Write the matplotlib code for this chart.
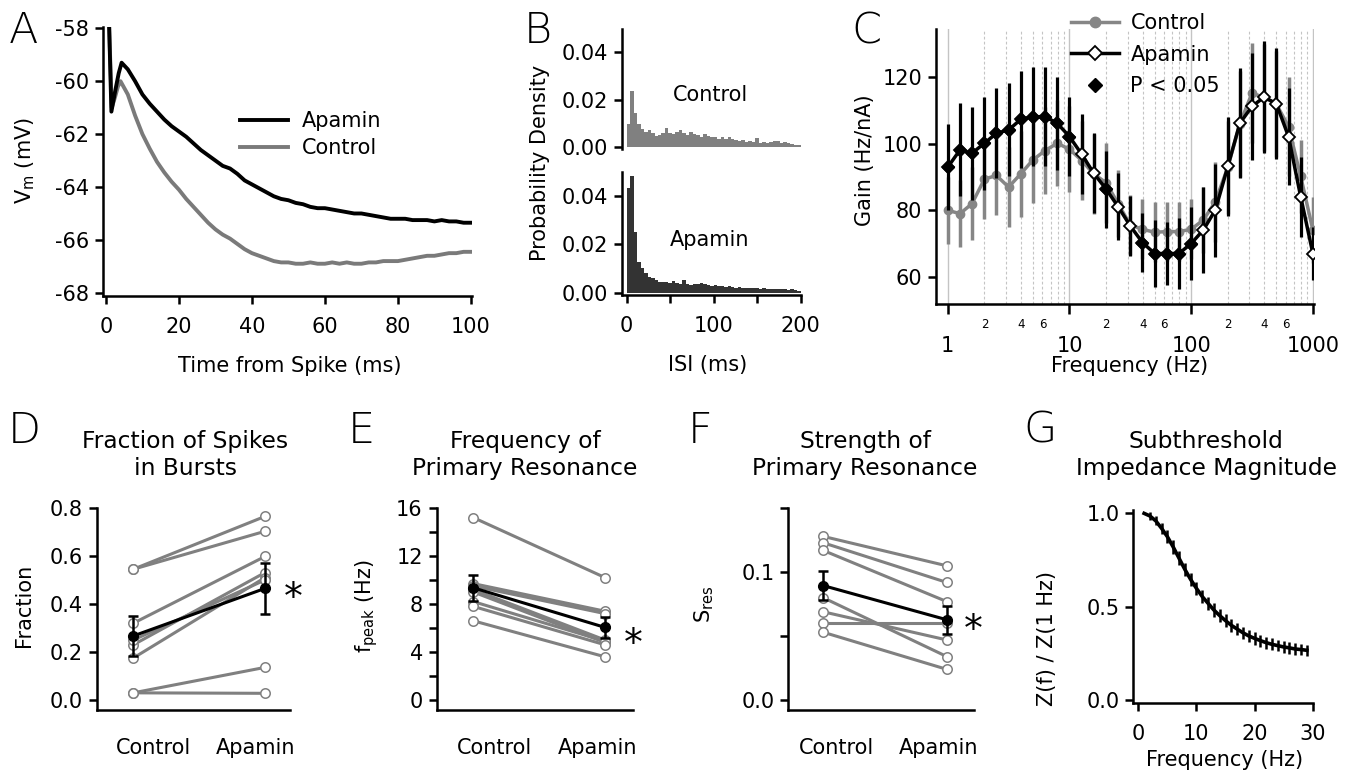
import math
import matplotlib
matplotlib.use("Agg")
import matplotlib.pyplot as plt
from matplotlib.lines import Line2D
from matplotlib.ticker import FixedLocator, FuncFormatter, FormatStrFormatter

# ------------------------------------------------------------------ data
# Panel A : mean membrane potential after a spike
a_time_apamin = [0.9, 1.5, 2.5, 3.5, 4.3,
                 6, 8, 10, 12, 14, 16, 18, 20, 22, 24, 26, 28, 30, 32, 34, 36, 38, 40,
                 42, 44, 46, 48, 50, 52, 54, 56, 58, 60, 62, 64, 66, 68, 70, 72, 74, 76,
                 78, 80, 82, 84, 86, 88, 90, 92, 94, 96, 98, 100]
a_vm_apamin = [-58.0, -61.15, -60.4, -59.7, -59.3,
               -59.55, -60.0, -60.5, -60.85, -61.15, -61.45, -61.7, -61.9, -62.1, -62.35,
               -62.6, -62.8, -63.0, -63.2, -63.3, -63.5, -63.75, -63.9, -64.05, -64.2,
               -64.35, -64.45, -64.5, -64.6, -64.65, -64.75, -64.8, -64.8, -64.85, -64.9,
               -64.95, -65.0, -65.0, -65.05, -65.1, -65.15, -65.2, -65.2, -65.2, -65.25,
               -65.25, -65.25, -65.3, -65.25, -65.3, -65.3, -65.35, -65.35]
a_time_control = [0.9, 1.6, 2.5, 3.3, 4.0,
                  6, 8, 10, 12, 14, 16, 18, 20, 22, 24, 26, 28, 30, 32, 34, 36, 38, 40,
                  42, 44, 46, 48, 50, 52, 54, 56, 58, 60, 62, 64, 66, 68, 70, 72, 74, 76,
                  78, 80, 82, 84, 86, 88, 90, 92, 94, 96, 98, 100]
a_vm_control = [-58.0, -61.0, -60.6, -60.2, -60.0,
                -60.5, -61.3, -62.0, -62.55, -63.05, -63.45, -63.8, -64.1, -64.45, -64.75,
                -65.05, -65.35, -65.6, -65.8, -65.95, -66.15, -66.35, -66.5, -66.6, -66.7,
                -66.8, -66.85, -66.85, -66.9, -66.9, -66.85, -66.9, -66.9, -66.85, -66.9,
                -66.85, -66.9, -66.9, -66.85, -66.85, -66.8, -66.8, -66.8, -66.75, -66.7,
                -66.65, -66.6, -66.6, -66.55, -66.5, -66.5, -66.45, -66.45]

# Panel B : ISI histograms (4 ms bins, 0-200 ms)
b_bin_edges = list(range(0, 204, 4))
b_hist_control = [0.0095, 0.0237, 0.0142, 0.0099, 0.0075, 0.0065, 0.0072, 0.0058, 0.0046, 0.0049,
                  0.0058, 0.0079, 0.0060, 0.0055, 0.0065, 0.0072, 0.0060, 0.0051, 0.0065, 0.0055,
                  0.0051, 0.0044, 0.0054, 0.0046, 0.0041, 0.0044, 0.0035, 0.0041, 0.0032, 0.0044,
                  0.0032, 0.0030, 0.0027, 0.0030, 0.0023, 0.0025, 0.0023, 0.0037, 0.0018, 0.0021,
                  0.0018, 0.0023, 0.0027, 0.0024, 0.0018, 0.0021, 0.0015, 0.0013, 0.0008, 0.0007]
b_hist_apamin = [0.0430, 0.0480, 0.0250, 0.0125, 0.0100, 0.0080, 0.0066, 0.0059, 0.0052, 0.0045,
                 0.0045, 0.0043, 0.0038, 0.0048, 0.0038, 0.0034, 0.0052, 0.0034, 0.0032, 0.0034,
                 0.0037, 0.0040, 0.0036, 0.0032, 0.0029, 0.0032, 0.0027, 0.0029, 0.0025, 0.0027,
                 0.0023, 0.0021, 0.0023, 0.0021, 0.0018, 0.0021, 0.0018, 0.0018, 0.0017, 0.0018,
                 0.0015, 0.0017, 0.0014, 0.0015, 0.0014, 0.0015, 0.0012, 0.0014, 0.0011, 0.0008]

# Panel C : gain vs frequency
c_freq = [1, 1.26, 1.58, 2, 2.51, 3.16, 3.98, 5.01, 6.31, 7.94, 10, 12.6, 15.8, 20, 25.1, 31.6,
          39.8, 50.1, 63.1, 79.4, 100, 126, 158, 200, 251, 316, 398, 501, 631, 794, 1000]
c_gain_control = [80, 79, 82, 89.4, 90.5, 87, 91, 95.2, 98, 100.2, 98.4, 95, 91, 88.3, 82, 75.6,
                  74.3, 73.4, 73.6, 73.6, 74.3, 77.1, 82.6, 93, 106, 115.3, 114, 112, 105.2, 90.2, 74.1]
c_err_control = [10, 10, 11, 12, 12, 12, 13, 13, 13, 13, 13, 12, 12, 12, 10, 9,
                 9, 9, 9, 9, 9, 10, 12, 14, 16, 15, 16, 16, 15, 11, 10]
c_gain_apamin = [93, 98.2, 97.2, 100.2, 103.2, 104.2, 107.4, 108.2, 108.2, 106.2, 102.2, 96.9, 91.2,
                 86.4, 81.1, 75.3, 70.3, 67, 67, 67, 70, 74.1, 80.1, 93.2, 106.2, 111.3, 114.1,
                 112.1, 102.2, 84.1, 67]
c_err_apamin = [13, 14, 14, 14, 13.6, 14, 14.6, 15, 15, 14, 12, 12, 12, 11.6, 10, 9,
                9, 10, 9.6, 10.6, 11, 13, 14, 15, 16.6, 16, 16.8, 16.7, 14.6, 12, 8]
c_significant = [1, 1, 1, 1, 1, 1, 1, 1, 1, 1, 1, 0, 0, 1, 0, 0,
                 1, 1, 1, 1, 1, 0, 0, 0, 0, 0, 0, 0, 0, 0, 0]

# Panels D-F : paired cell values (Control -> Apamin)
conditions = ['Control', 'Apamin']
d_control = [0.545, 0.545, 0.32, 0.23, 0.175, 0.25, 0.03, 0.03]
d_apamin = [0.765, 0.703, 0.598, 0.531, 0.51, 0.50, 0.136, 0.028]
d_mean = [0.267, 0.465]
d_sem = [0.083, 0.105]

e_control = [15.2, 9.7, 9.5, 9.2, 9.0, 8.2, 7.8, 6.6]
e_apamin = [10.2, 7.4, 7.2, 5.0, 4.8, 4.9, 4.6, 3.6]
e_mean = [9.35, 6.05]
e_sem = [1.1, 0.87]

f_control = [0.128, 0.123, 0.117, 0.080, 0.069, 0.060, 0.053]
f_apamin = [0.105, 0.092, 0.077, 0.034, 0.047, 0.060, 0.024]
f_mean = [0.0895, 0.0628]
f_sem = [0.0115, 0.011]

# Panel G : normalised subthreshold impedance
g_freq = [1, 2, 3, 4, 5, 6, 7, 8, 9, 10, 11, 12, 13, 14, 15, 16, 17, 18, 19, 20,
          21, 22, 23, 24, 25, 26, 27, 28, 29]
g_ratio = [1.0, 0.986, 0.96, 0.92, 0.875, 0.82, 0.76, 0.70, 0.646, 0.598, 0.554, 0.518, 0.482,
           0.452, 0.425, 0.40, 0.38, 0.36, 0.343, 0.33, 0.318, 0.307, 0.298, 0.291, 0.284,
           0.279, 0.273, 0.27, 0.266]
g_err = [0.0, 0.02, 0.025, 0.03, 0.035, 0.036, 0.036, 0.036, 0.036, 0.036, 0.035, 0.035, 0.035,
         0.035, 0.034, 0.034, 0.034, 0.033, 0.033, 0.033, 0.032, 0.032, 0.032, 0.031, 0.031,
         0.031, 0.030, 0.030, 0.030]

# ------------------------------------------------------------------ figure
plt.rcParams['font.family'] = ['DejaVu Sans']
plt.rcParams['mathtext.fontset'] = 'dejavusans'
plt.rcParams['axes.unicode_minus'] = False

W, H = 1355, 779
fig = plt.figure(figsize=(W / 100, H / 100), dpi=100)
FS = 15
GRAY = '#808080'
LW_SP = 1.8


def px_axes(l, t, r, b):
    return fig.add_axes([l / W, 1 - b / H, (r - l) / W, (b - t) / H])


def ftext(x, y, s, **kw):
    return fig.text(x / W, 1 - y / H, s, **kw)


def base_style(ax):
    ax.spines['top'].set_visible(False)
    ax.spines['right'].set_visible(False)
    for s in ('left', 'bottom'):
        ax.spines[s].set_linewidth(LW_SP)
    ax.tick_params(axis='both', which='both', width=LW_SP, length=6, labelsize=FS,
                   direction='out')
    ax.tick_params(axis='y', pad=4)
    ax.tick_params(axis='x', pad=9)
    ax.patch.set_alpha(0)


# ---------------- Panel A
axA = px_axes(103, 27, 472, 296)
base_style(axA)
axA.plot(a_time_control, a_vm_control, color='#7a7a7a', lw=2.8)
axA.plot(a_time_apamin, a_vm_apamin, color='black', lw=2.8)
axA.set_xlim(-0.8, 100.3)
axA.set_ylim(-68.12, -57.95)
axA.set_xticks([0, 20, 40, 60, 80, 100])
axA.set_yticks([-68, -66, -64, -62, -60, -58])
axA.legend([Line2D([], [], color='black', lw=2.8), Line2D([], [], color='#7a7a7a', lw=2.8)],
           ['Apamin', 'Control'], loc='upper left', bbox_to_anchor=(240 / W, 1 - 111 / H),
           bbox_transform=fig.transFigure, frameon=False, fontsize=FS, handlelength=2.3,
           handletextpad=0.65, labelspacing=0.33, borderpad=0, borderaxespad=0)
ftext(290, 366, 'Time from Spike (ms)', ha='center', va='center', fontsize=FS)
ftext(25, 160, 'V$_\\mathrm{m}$ (mV)', ha='center', va='center', fontsize=FS, rotation=90)

# ---------------- Panel B
axB1 = px_axes(622, 29, 801, 149)
axB2 = px_axes(622, 172, 801, 295)
for ax, hist, col, lab, ylim, ty in ((axB1, b_hist_control, '#808080', 'Control',
                                      (-0.00084, 0.0498), 95),
                                     (axB2, b_hist_apamin, '#333333', 'Apamin',
                                      (-0.00095, 0.0497), 240)):
    base_style(ax)
    ax.stairs(hist, b_bin_edges, fill=True, color=col, lw=0)
    ax.set_xlim(-5.4, 200.5)
    ax.set_ylim(*ylim)
    ax.set_yticks([0, 0.02, 0.04])
    ax.yaxis.set_major_formatter(FormatStrFormatter('%.2f'))
    ftext(710, ty, lab, ha='center', va='center', fontsize=FS)
axB1.spines['bottom'].set_visible(False)
axB1.tick_params(axis='x', which='both', bottom=False, labelbottom=False)
axB2.set_xticks([0, 100, 200])
axB2.set_xticks([50, 150], minor=True)
axB2.tick_params(axis='x', which='minor', length=6, width=LW_SP)
ftext(540, 163, 'Probability Density', ha='center', va='center', fontsize=FS, rotation=90)
ftext(708, 365, 'ISI (ms)', ha='center', va='center', fontsize=FS)

# ---------------- Panel C
axC = px_axes(936, 29, 1313.5, 304)
base_style(axC)
axC.set_xscale('log')
axC.set_xlim(0.80, 1012)
axC.set_ylim(51.8, 134.6)
axC.set_yticks([60, 80, 100, 120])
axC.xaxis.set_major_locator(FixedLocator([1, 10, 100, 1000]))
axC.xaxis.set_major_formatter(FuncFormatter(lambda v, p: f'{v:g}'))
minor_pos = [m * 10 ** k for k in range(3) for m in range(2, 10)]
axC.xaxis.set_minor_locator(FixedLocator(minor_pos))


def _minor_fmt(v, p):
    mant = int(round(v / 10 ** math.floor(math.log10(v) + 1e-9)))
    return str(mant) if mant in (2, 4, 6) else ''


axC.xaxis.set_minor_formatter(FuncFormatter(_minor_fmt))
axC.tick_params(axis='x', which='major', length=7, pad=16)
axC.tick_params(axis='x', which='minor', length=0, pad=10, labelsize=8.5)
axC.grid(True, which='major', axis='x', color='#c4c4c4', lw=1.0)
axC.grid(True, which='minor', axis='x', color='#c4c4c4', lw=0.8, ls=(0, (2.5, 2)))
axC.set_axisbelow(True)
axC.errorbar(c_freq, c_gain_control, yerr=c_err_control, fmt='none', ecolor='#868686',
             elinewidth=2.5, capsize=0, zorder=2)
axC.plot(c_freq, c_gain_control, color='#868686', lw=2.5, marker='o', ms=6, zorder=2.5)
axC.errorbar(c_freq, c_gain_apamin, yerr=c_err_apamin, fmt='none', ecolor='black',
             elinewidth=2.3, capsize=0, zorder=3)
axC.plot(c_freq, c_gain_apamin, color='black', lw=2.5, marker='D', ms=6.3, mfc='white',
         mec='black', mew=1.3, zorder=3.5)
sig_x = [f for f, s in zip(c_freq, c_significant) if s]
sig_y = [g for g, s in zip(c_gain_apamin, c_significant) if s]
axC.plot(sig_x, sig_y, ls='none', marker='D', ms=6.3, color='black', zorder=4)
fig.legend([Line2D([], [], color='#868686', lw=2.5, marker='o', ms=7.5),
            Line2D([], [], color='black', lw=2.5, marker='D', ms=7, mfc='white', mec='black',
                   mew=1.3),
            Line2D([], [], ls='none', marker='D', ms=7, color='black')],
           ['Control', 'Apamin', 'P < 0.05'], loc='upper left',
           bbox_to_anchor=(1071 / W, 1 - 13 / H), frameon=False, fontsize=FS,
           handlelength=2.3, handletextpad=0.55, labelspacing=0.56, borderpad=0,
           borderaxespad=0)
ftext(865, 160, 'Gain (Hz/nA)', ha='center', va='center', fontsize=FS, rotation=90)
ftext(1130, 366, 'Frequency (Hz)', ha='center', va='center', fontsize=FS)


# ---------------- Panels D-F
def paired_panel(ax, ctrl, apa, mean, sem, xlim, ylim, yticks, ylabels, yminor, tickpos,
                 star_dy):
    base_style(ax)
    for c, a in zip(ctrl, apa):
        ax.plot([0, 1], [c, a], color=GRAY, lw=2.2, marker='o', ms=6.8, mfc='white',
                mec=GRAY, mew=1.1, zorder=2, clip_on=False)
    ax.errorbar([0, 1], mean, yerr=sem, color='black', lw=2.2, marker='o', ms=7,
                capsize=3.8, elinewidth=1.8, capthick=1.8, zorder=5, clip_on=False)
    ax.annotate('*', xy=(1.215, mean[1]), xytext=(0, star_dy), textcoords='offset points',
                ha='center', va='baseline', fontsize=27, annotation_clip=False)
    ax.set_xlim(*xlim)
    ax.set_ylim(*ylim)
    ax.set_yticks(yticks)
    ax.set_yticklabels(ylabels)
    if yminor:
        ax.set_yticks(yminor, minor=True)
    ax.set_xticks(tickpos)
    ax.set_xticklabels(conditions)
    ax.tick_params(axis='x', length=0, pad=20)


axD = px_axes(96.7, 508, 290, 710)
paired_panel(axD, d_control, d_apamin, d_mean, d_sem, (-0.278, 1.19), (-0.0415, 0.8),
             [0, 0.2, 0.4, 0.6, 0.8], ['0.0', '0.2', '0.4', '0.6', '0.8'], None,
             [0.155, 0.93], -15)
axE = px_axes(436.7, 508, 632.5, 710)
paired_panel(axE, e_control, e_apamin, e_mean, e_sem, (-0.278, 1.208), (-0.83, 16),
             [0, 4, 8, 12, 16], ['0', '4', '8', '12', '16'], [2, 6, 10, 14],
             [0.157, 0.942], -20)
axF = px_axes(788.3, 508.3, 974, 710)
paired_panel(axF, f_control, f_apamin, f_mean, f_sem, (-0.284, 1.22), (-0.0078, 0.15),
             [0, 0.1], ['0.0', '0.1'], [0.05, 0.15], [0.103, 0.935], -15)
ftext(24, 605, 'Fraction', ha='center', va='center', fontsize=FS, rotation=90)
ftext(367, 606, 'f$_\\mathrm{peak}$ (Hz)', ha='center', va='center', fontsize=FS, rotation=90)
ftext(704, 604, 'S$_\\mathrm{res}$', ha='center', va='center', fontsize=FS, rotation=90)

# ---------------- Panel G
axG = px_axes(1133.3, 510, 1313, 703.3)
base_style(axG)
axG.errorbar(g_freq, g_ratio, yerr=g_err, color='black', lw=2.6, elinewidth=1.8, capsize=0)
axG.set_xlim(-0.86, 30.05)
axG.set_ylim(-0.018, 1.018)
axG.set_xticks([0, 10, 20, 30])
axG.set_yticks([0, 0.5, 1.0])
axG.set_yticklabels(['0.0', '0.5', '1.0'])
ftext(1047, 638, 'Z(f) / Z(1 Hz)', ha='center', va='center', fontsize=FS, rotation=90)
ftext(1225, 760, 'Frequency (Hz)', ha='center', va='center', fontsize=FS)

# ---------------- titles and panel letters
TFS = 16.8
TLS = 1.2
ftext(185, 430, 'Fraction of Spikes\nin Bursts', ha='center', va='top', fontsize=TFS,
      linespacing=TLS, multialignment='center')
ftext(525, 430, 'Frequency of\nPrimary Resonance', ha='center', va='top', fontsize=TFS,
      linespacing=TLS, multialignment='center')
ftext(865, 430, 'Strength of\nPrimary Resonance', ha='center', va='top', fontsize=TFS,
      linespacing=TLS, multialignment='center')
ftext(1206, 430, 'Subthreshold\nImpedance Magnitude', ha='center', va='top', fontsize=TFS,
      linespacing=TLS, multialignment='center')

for letter, x, y in (('A', 9, 43), ('B', 524, 43), ('C', 851, 43), ('D', 8, 443),
                     ('E', 348, 443), ('F', 688, 443), ('G', 1023, 443)):
    ftext(x, y, letter, ha='left', va='baseline', fontsize=31, fontweight='light')

fig.savefig('out.png', dpi=100)
